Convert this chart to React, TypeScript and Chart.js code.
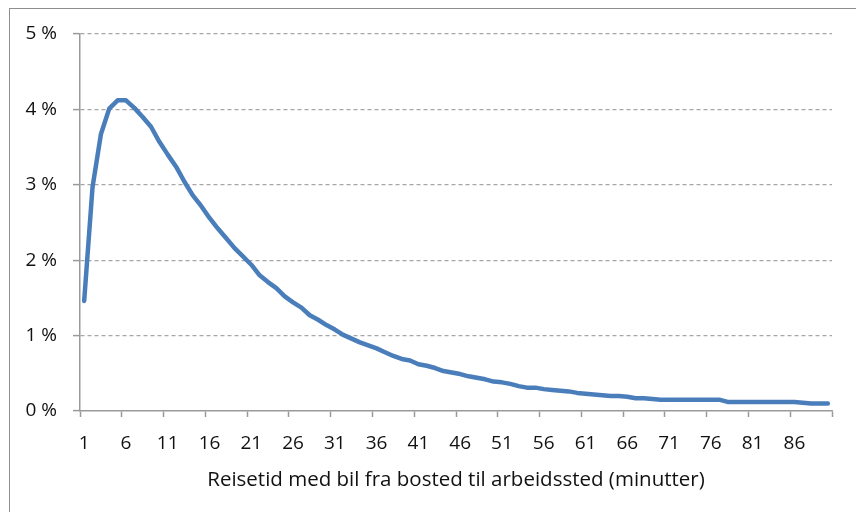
import React, { useEffect, useRef } from "react";
import { Chart, registerables } from "chart.js";

Chart.register(...registerables);

const minutes: string[] = Array.from({ length: 90 }, (_, i) => String(i + 1));

const shareOfCommuters: number[] = [
  1.46, 2.97, 3.67, 4.01, 4.12, 4.12, 4.02, 3.9, 3.77, 3.57,
  3.4, 3.24, 3.04, 2.86, 2.72, 2.56, 2.42, 2.29, 2.16, 2.05,
  1.94, 1.8, 1.71, 1.63, 1.52, 1.44, 1.37, 1.27, 1.21, 1.14,
  1.08, 1.01, 0.96, 0.91, 0.87, 0.83, 0.78, 0.73, 0.69, 0.67,
  0.62, 0.6, 0.57, 0.53, 0.51, 0.49, 0.46, 0.44, 0.42, 0.39,
  0.38, 0.36, 0.33, 0.31, 0.31, 0.29, 0.28, 0.27, 0.26, 0.24,
  0.23, 0.22, 0.21, 0.2, 0.2, 0.19, 0.17, 0.17, 0.16, 0.15,
  0.15, 0.15, 0.15, 0.15, 0.15, 0.15, 0.15, 0.12, 0.12, 0.12,
  0.12, 0.12, 0.12, 0.12, 0.12, 0.12, 0.11, 0.1, 0.1, 0.1,
];

const xTitle = "Reisetid med bil fra bosted til arbeidssted (minutter)";
const yMin = 0;
const yMax = 5;
const yStep = 1;
const labelEvery = 5;

const FONT = "'Open Sans', Lato, sans-serif";
const AXIS_GRAY = "#9a9a9a";

export default function App() {
  const canvasRef = useRef<HTMLCanvasElement | null>(null);

  useEffect(() => {
    const canvas = canvasRef.current;
    if (!canvas) return;
    const chart = new Chart(canvas, {
      type: "line",
      data: {
        labels: minutes,
        datasets: [
          {
            data: shareOfCommuters,
            borderColor: "#4a7ebb",
            borderWidth: 4.5,
            pointRadius: 0,
            tension: 0,
            borderJoinStyle: "round",
            borderCapStyle: "round",
            fill: false,
          },
        ],
      },
      options: {
        responsive: false,
        animation: false,
        layout: { padding: { left: 0, right: 24, top: 34, bottom: 0 } },
        plugins: {
          legend: { display: false },
          tooltip: { enabled: false },
        },
        scales: {
          x: {
            type: "category",
            offset: true,
            afterFit: (s: any) => {
              s.height = 101;
            },
            grid: {
              offset: true,
              drawOnChartArea: false,
              drawTicks: true,
              tickLength: 6,
              tickWidth: 1.5,
              tickColor: (ctx: any) =>
                ctx.type === "tick" ? (ctx.index % labelEvery === 0 ? AXIS_GRAY : "rgba(0,0,0,0)") : AXIS_GRAY,
            },
            border: { display: true, color: AXIS_GRAY, width: 1.5 },
            ticks: {
              autoSkip: false,
              maxRotation: 0,
              minRotation: 0,
              padding: 15,
              color: "#111",
              font: { family: FONT, size: 19 },
              callback: (_v: any, i: number) => (i % labelEvery === 0 ? minutes[i] : ""),
            },
            title: {
              display: true,
              text: xTitle,
              color: "#111",
              font: { family: FONT, size: 20.5 },
              padding: { top: 0, bottom: 20 },
            },
          },
          y: {
            min: yMin,
            max: yMax,
            afterFit: (s: any) => {
              s.width = 80;
            },
            grid: {
              drawOnChartArea: true,
              drawTicks: true,
              tickLength: 7,
              tickWidth: 1.5,
              tickColor: AXIS_GRAY,
              color: (ctx: any) => (ctx.tick && ctx.tick.value === 0 ? "rgba(0,0,0,0)" : "#a6a6a6"),
              lineWidth: 1.2,
            },
            border: { display: true, color: AXIS_GRAY, width: 1.5, dash: [4, 3] },
            ticks: {
              stepSize: yStep,
              padding: 16,
              color: "#111",
              font: { family: FONT, size: 19 },
              callback: (v: any) => `${v} %`,
            },
          },
        },
      },
    });
    return () => chart.destroy();
  }, []);

  return (
    <div style={{ position: "absolute", left: 0, top: 0, width: 856, height: 512, overflow: "hidden", background: "#fff" }}>
      <div
        style={{
          position: "absolute",
          left: 9,
          top: 8,
          width: 900,
          height: 600,
          borderLeft: "1.5px solid #8e8e8e",
          borderTop: "1.5px solid #8e8e8e",
        }}
      />
      <canvas ref={canvasRef} width={856} height={512} style={{ position: "absolute", left: 0, top: 0, width: 856, height: 512 }} />
    </div>
  );
}
